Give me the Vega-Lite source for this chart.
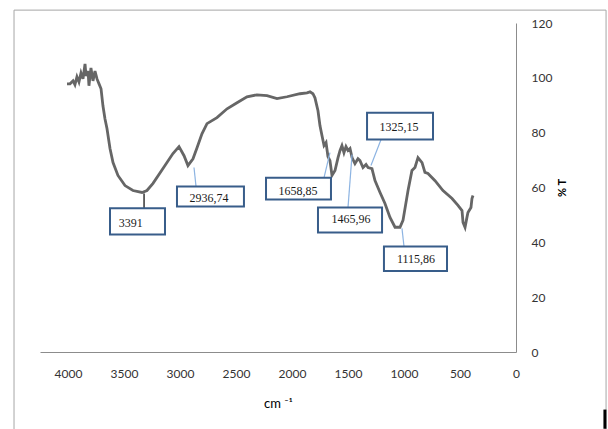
{
  "$schema": "https://vega.github.io/schema/vega-lite/v6.json",
  "autosize": "none",
  "width": 476,
  "height": 329,
  "padding": {"left": 40, "top": 23, "right": 92, "bottom": 77},
  "background": "white",
  "config": {
    "view": {"stroke": null},
    "axis": {"grid": false, "ticks": false, "tickSize": 0, "domainColor": "#8c8c8c", "domainWidth": 1, "labelFont": "Lato", "labelFontSize": 12, "labelColor": "#333333", "titleFont": "Lato", "titleColor": "#000000"}
  },
  "datasets": {
    "spectrum": [
      {"w": 4009, "t": 97.8}, {"w": 3982, "t": 97.8}, {"w": 3955, "t": 98.9}, {"w": 3938, "t": 97.5},
      {"w": 3920, "t": 100.4}, {"w": 3902, "t": 98.5}, {"w": 3884, "t": 101.8}, {"w": 3866, "t": 99.6},
      {"w": 3848, "t": 105.1}, {"w": 3839, "t": 100.7}, {"w": 3821, "t": 102.5}, {"w": 3813, "t": 97.1},
      {"w": 3795, "t": 103.6}, {"w": 3777, "t": 98.9}, {"w": 3759, "t": 102.5}, {"w": 3741, "t": 99.6},
      {"w": 3723, "t": 97.8}, {"w": 3705, "t": 96.0}, {"w": 3688, "t": 89.8}, {"w": 3670, "t": 85.1},
      {"w": 3652, "t": 81.5}, {"w": 3625, "t": 74.2}, {"w": 3598, "t": 69.1}, {"w": 3554, "t": 64.4},
      {"w": 3491, "t": 60.7}, {"w": 3420, "t": 58.9}, {"w": 3339, "t": 58.2}, {"w": 3295, "t": 58.9},
      {"w": 3241, "t": 61.5}, {"w": 3152, "t": 66.9}, {"w": 3063, "t": 72.4}, {"w": 3009, "t": 74.9},
      {"w": 2964, "t": 71.6}, {"w": 2929, "t": 68.0}, {"w": 2884, "t": 70.5}, {"w": 2848, "t": 74.5},
      {"w": 2804, "t": 79.6}, {"w": 2759, "t": 83.3}, {"w": 2670, "t": 85.5}, {"w": 2580, "t": 88.7},
      {"w": 2491, "t": 90.9}, {"w": 2402, "t": 93.1}, {"w": 2313, "t": 93.8}, {"w": 2223, "t": 93.5},
      {"w": 2134, "t": 92.4}, {"w": 2045, "t": 93.1}, {"w": 1929, "t": 94.2}, {"w": 1866, "t": 94.5},
      {"w": 1839, "t": 94.9}, {"w": 1813, "t": 94.2}, {"w": 1795, "t": 92.7}, {"w": 1768, "t": 88.0},
      {"w": 1750, "t": 82.5}, {"w": 1732, "t": 78.9}, {"w": 1714, "t": 75.3}, {"w": 1696, "t": 76.4},
      {"w": 1679, "t": 71.3}, {"w": 1661, "t": 69.8}, {"w": 1643, "t": 64.4}, {"w": 1616, "t": 66.2},
      {"w": 1589, "t": 70.9}, {"w": 1571, "t": 73.5}, {"w": 1554, "t": 75.3}, {"w": 1536, "t": 72.7},
      {"w": 1518, "t": 74.9}, {"w": 1500, "t": 73.5}, {"w": 1482, "t": 74.2}, {"w": 1464, "t": 70.9},
      {"w": 1438, "t": 68.7}, {"w": 1411, "t": 70.5}, {"w": 1393, "t": 69.8}, {"w": 1366, "t": 67.3},
      {"w": 1339, "t": 68.4}, {"w": 1321, "t": 67.3}, {"w": 1286, "t": 66.9}, {"w": 1259, "t": 62.5},
      {"w": 1214, "t": 58.2}, {"w": 1170, "t": 54.2}, {"w": 1125, "t": 49.1}, {"w": 1080, "t": 45.5},
      {"w": 1036, "t": 45.5}, {"w": 1009, "t": 48.0}, {"w": 964, "t": 58.9}, {"w": 929, "t": 66.2},
      {"w": 902, "t": 67.3}, {"w": 875, "t": 70.9}, {"w": 839, "t": 69.1}, {"w": 813, "t": 65.5},
      {"w": 786, "t": 65.1}, {"w": 723, "t": 62.5}, {"w": 652, "t": 58.9}, {"w": 571, "t": 56.0},
      {"w": 518, "t": 53.5}, {"w": 482, "t": 51.6}, {"w": 473, "t": 47.3}, {"w": 455, "t": 45.5},
      {"w": 438, "t": 49.1}, {"w": 429, "t": 50.9}, {"w": 402, "t": 52.7}, {"w": 393, "t": 56.0},
      {"w": 384, "t": 57.1}
    ],
    "labels": [
      {"label": "3391", "kind": "black", "bx1": 3625, "bx2": 3134, "by1": 52.4, "by2": 42.9, "tx": 3440, "ty": 47.2, "lx1": 3321, "ly1": 57.8, "lx2": 3321, "ly2": 52.4},
      {"label": "2936,74", "kind": "blue", "bx1": 3027, "bx2": 2429, "by1": 60.4, "by2": 53.1, "tx": 2741, "ty": 56.2, "lx1": 2875, "ly1": 67.3, "lx2": 2857, "ly2": 60.4},
      {"label": "1658,85", "kind": "blue", "bx1": 2232, "bx2": 1652, "by1": 63.6, "by2": 55.6, "tx": 1946, "ty": 58.9, "lx1": 1714, "ly1": 63.6, "lx2": 1661, "ly2": 72.7},
      {"label": "1325,15", "kind": "blue", "bx1": 1330, "bx2": 741, "by1": 87.3, "by2": 77.5, "tx": 1045, "ty": 82.2, "lx1": 1205, "ly1": 77.5, "lx2": 1295, "ly2": 68.0},
      {"label": "1465,96", "kind": "blue", "bx1": 1768, "bx2": 1196, "by1": 52.7, "by2": 43.6, "tx": 1473, "ty": 48.4, "lx1": 1500, "ly1": 52.7, "lx2": 1464, "ly2": 72.0},
      {"label": "1115,86", "kind": "blue", "bx1": 1179, "bx2": 616, "by1": 38.5, "by2": 29.5, "tx": 893, "ty": 33.9, "lx1": 1018, "ly1": 45.1, "lx2": 1000, "ly2": 38.5}
    ],
    "frame": [{"x1": 4482, "x2": -804, "y1": 124.7, "y2": -40}],
    "mark": [{"x": -794, "y1": -21, "y2": -28}]
  },
  "layer": [
    {
      "data": {"name": "frame"},
      "mark": {"type": "rect", "fill": null, "stroke": "#a6a6a6", "strokeWidth": 1},
      "encoding": {
        "x": {"field": "x1", "type": "quantitative", "scale": {"domain": [0, 4250], "reverse": true, "nice": false, "zero": false},
          "axis": {"orient": "bottom", "values": [4000, 3500, 3000, 2500, 2000, 1500, 1000, 500, 0], "format": "d", "labelPadding": 16, "title": "cm ⁻¹", "titleFontSize": 13, "titleFontWeight": "normal", "titlePadding": 18, "labelFlush": false, "labelOverlap": false}},
        "x2": {"field": "x2"},
        "y": {"field": "y1", "type": "quantitative", "scale": {"domain": [0, 120], "nice": false},
          "axis": {"orient": "right", "values": [0, 20, 40, 60, 80, 100, 120], "format": "d", "labelPadding": 15, "labelAlign": "left", "title": "% T", "titleAngle": 270, "titleFontSize": 11, "titleFontWeight": "bold", "titlePadding": 16, "labelFlush": false}},
        "y2": {"field": "y2"}
      }
    },
    {
      "data": {"name": "mark"},
      "mark": {"type": "rule", "color": "#000000", "strokeWidth": 3},
      "encoding": {
        "x": {"field": "x", "type": "quantitative"},
        "y": {"field": "y1", "type": "quantitative"},
        "y2": {"field": "y2"}
      }
    },
    {
      "data": {"name": "spectrum"},
      "mark": {"type": "line", "color": "#666666", "strokeWidth": 2.8},
      "encoding": {
        "x": {"field": "w", "type": "quantitative"},
        "y": {"field": "t", "type": "quantitative"}
      }
    },
    {
      "data": {"name": "labels"},
      "transform": [{"filter": "datum.kind == 'blue'"}],
      "mark": {"type": "rule", "color": "#8db4e2", "strokeWidth": 1.2},
      "encoding": {
        "x": {"field": "lx1", "type": "quantitative"},
        "y": {"field": "ly1", "type": "quantitative"},
        "x2": {"field": "lx2"},
        "y2": {"field": "ly2"}
      }
    },
    {
      "data": {"name": "labels"},
      "transform": [{"filter": "datum.kind == 'black'"}],
      "mark": {"type": "rule", "color": "#000000", "strokeWidth": 1.2},
      "encoding": {
        "x": {"field": "lx1", "type": "quantitative"},
        "y": {"field": "ly1", "type": "quantitative"},
        "x2": {"field": "lx2"},
        "y2": {"field": "ly2"}
      }
    },
    {
      "data": {"name": "labels"},
      "mark": {"type": "rect", "fill": "white", "stroke": "#385d8a", "strokeWidth": 2},
      "encoding": {
        "x": {"field": "bx1", "type": "quantitative"},
        "x2": {"field": "bx2"},
        "y": {"field": "by1", "type": "quantitative"},
        "y2": {"field": "by2"}
      }
    },
    {
      "data": {"name": "labels"},
      "mark": {"type": "text", "font": "Liberation Serif", "fontSize": 12, "color": "#1a1a1a", "align": "center", "baseline": "middle"},
      "encoding": {
        "x": {"field": "tx", "type": "quantitative"},
        "y": {"field": "ty", "type": "quantitative"},
        "text": {"field": "label"}
      }
    }
  ]
}
